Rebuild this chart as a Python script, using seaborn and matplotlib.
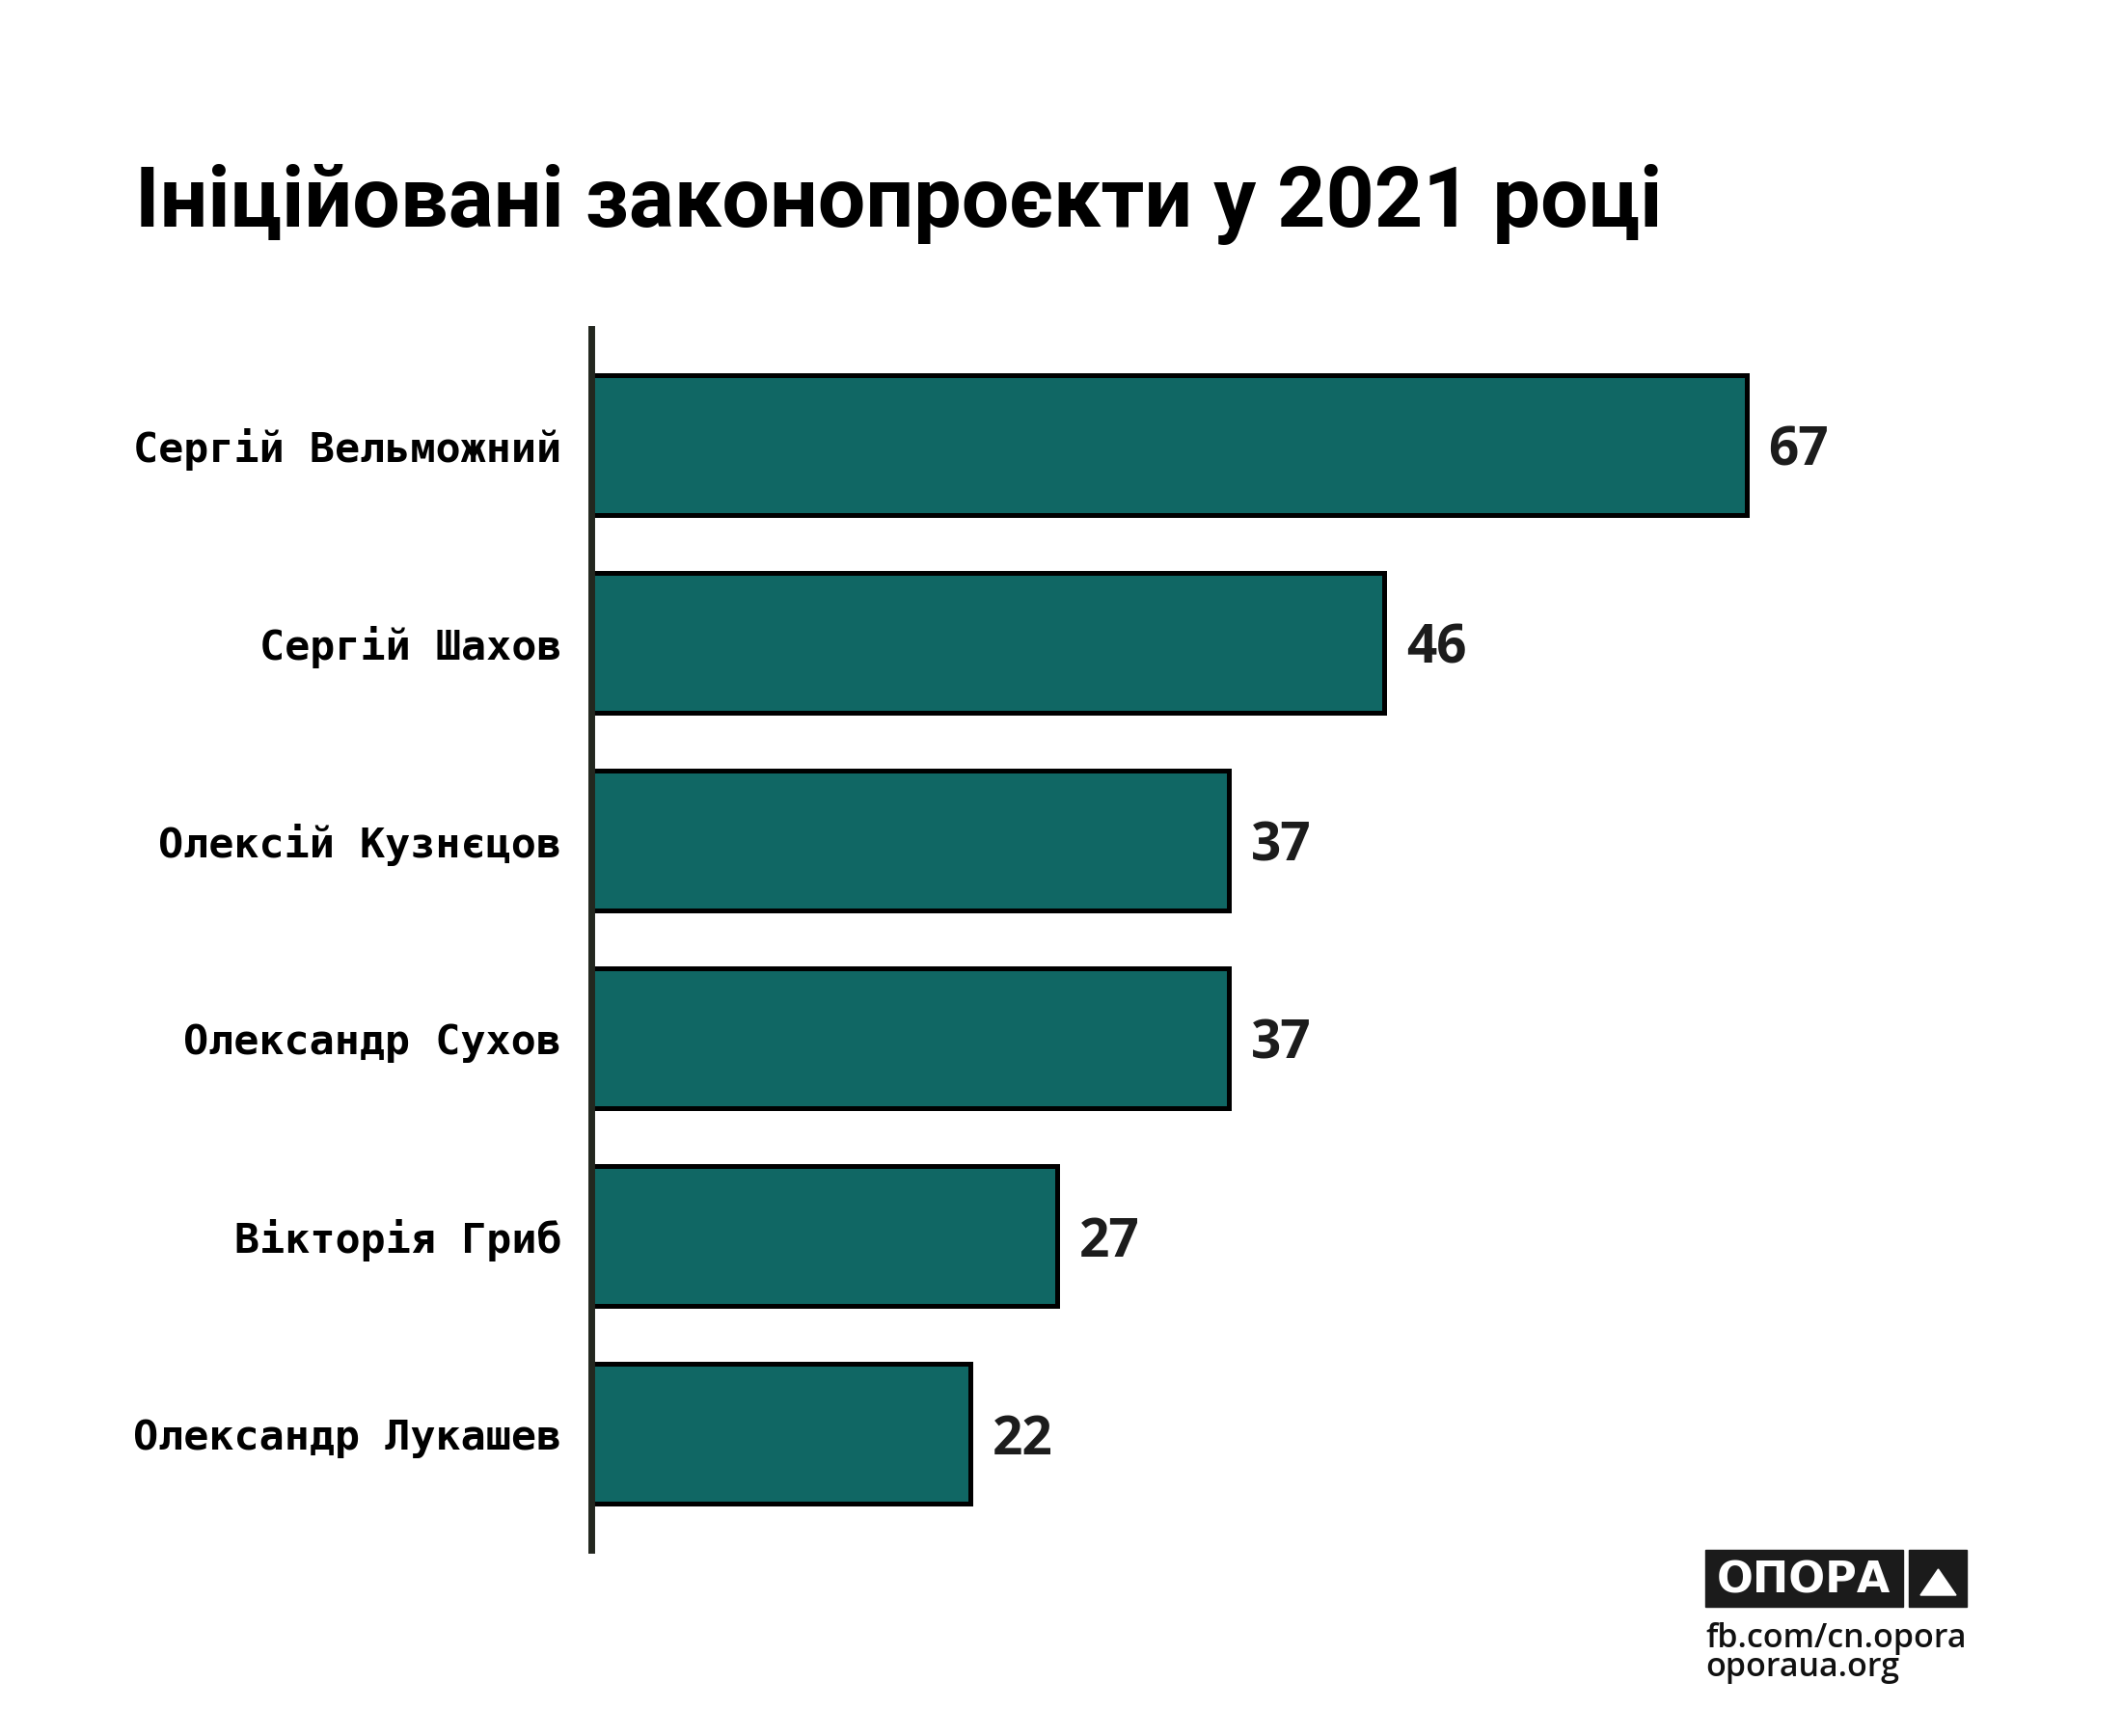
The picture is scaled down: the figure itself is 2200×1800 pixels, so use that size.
import matplotlib
matplotlib.use("Agg")
import matplotlib.pyplot as plt
import matplotlib.patches as mpatches
import seaborn as sns

# data
names = ["Сергій Вельможний", "Сергій Шахов", "Олексій Кузнєцов",
         "Олександр Сухов", "Вікторія Гриб", "Олександр Лукашев"]
bills = [67, 46, 37, 37, 27, 22]

title = "Ініційовані законопроєкти у 2021 році"
bar_color = "#106764"

sns.set_theme(style="white")
plt.rcParams["font.family"] = ["DejaVu Sans"]

fig = plt.figure(figsize=(22, 18), dpi=100)
fig.patch.set_facecolor("white")
ax = fig.add_axes([0.2786, 0.1072, 0.650, 0.7033])

sns.barplot(x=bills, y=names, orient="h", color=bar_color, saturation=1,
            edgecolor="black", linewidth=3.6, width=0.707, ax=ax)

ax.set_xlim(0, 80)
ax.set_ylim(5.5875, -0.5875)
ax.set_xlabel("")
ax.set_ylabel("")
ax.set_xticks([])
for side in ["top", "right", "bottom"]:
    ax.spines[side].set_visible(False)
ax.spines["left"].set_color("#23271f")
ax.spines["left"].set_linewidth(5)
ax.spines["left"].set_zorder(5)

ax.tick_params(axis="y", length=0, pad=22)
for lbl in ax.get_yticklabels():
    lbl.set_fontfamily("DejaVu Sans Mono")
    lbl.set_fontweight("bold")
    lbl.set_fontsize(31.2)
    lbl.set_color("black")

for cont in ax.containers:
    anns = ax.bar_label(cont, labels=[str(v) for v in bills], padding=16.5,
                        fontsize=39.5, fontweight="bold", color="#1c1c1c",
                        family=["Open Sans", "DejaVu Sans"])
    for a in anns:
        a.set_va("center_baseline")

fig.text(140 / 2200, 1 - 235 / 1800, title, fontsize=63.3, fontweight="bold",
         family=["Roboto", "DejaVu Sans"], color="black", va="baseline", ha="left")

# logo block
fig.patches.append(mpatches.Rectangle((1768 / 2200, 1 - 1666 / 1800), 205 / 2200, 59 / 1800,
                                      transform=fig.transFigure, color="#1b1b1b", zorder=1))
fig.patches.append(mpatches.Rectangle((1979 / 2200, 1 - 1666 / 1800), 60 / 2200, 59 / 1800,
                                      transform=fig.transFigure, color="#1b1b1b", zorder=1))
fig.patches.append(mpatches.Polygon([(1991 / 2200, 1 - 1654 / 1800), (2028 / 2200, 1 - 1654 / 1800),
                                     (2009.5 / 2200, 1 - 1627 / 1800)],
                                    transform=fig.transFigure, color="white", zorder=2))
fig.text(1870 / 2200, 1 - 1652 / 1800, "ОПОРА", fontsize=32, fontweight="bold",
         color="white", ha="center", va="baseline", family=["DejaVu Sans"], zorder=3)
fig.text(1768 / 2200, 1 - 1708 / 1800, "fb.com/cn.opora", fontsize=24.5, fontweight="semibold",
         color="#111111", ha="left", va="baseline", family=["Open Sans", "DejaVu Sans"])
fig.text(1768 / 2200, 1 - 1738 / 1800, "oporaua.org", fontsize=24.5, fontweight="semibold",
         color="#111111", ha="left", va="baseline", family=["Open Sans", "DejaVu Sans"])

fig.savefig("out.png", dpi=100, facecolor="white")
